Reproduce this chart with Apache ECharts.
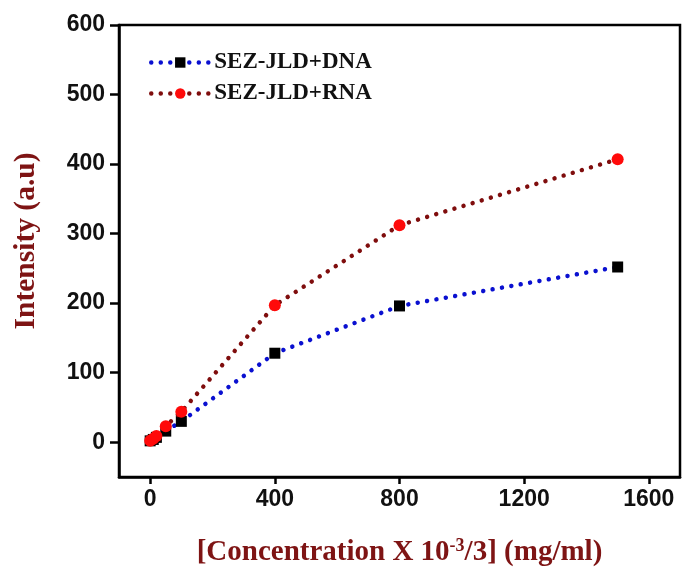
<!DOCTYPE html>
<html><head><meta charset="utf-8">
<script src="https://cdn.jsdelivr.net/npm/echarts@6/dist/echarts.min.js"></script>
<style>html,body{margin:0;padding:0;background:#fff}#c{width:683px;height:569px}</style>
</head><body><div id="c"></div>
<script>
const concentration = [0, 10, 20, 50, 100, 400, 800, 1500];
const dnaIntensity = [2, 4, 7, 16, 30, 128, 196, 252];
const rnaIntensity = [2, 5, 9, 23, 44, 197, 312, 407];
const xTicks = [0, 400, 800, 1200, 1600];
const yTicks = [0, 100, 200, 300, 400, 500, 600];
const seriesNames = ['SEZ-JLD+DNA', 'SEZ-JLD+RNA'];

const chart = echarts.init(document.getElementById('c'));
const dot = {type: [0.01, 9.5], cap: 'round', width: 4.5};
const nameColor = '#7e1414';
chart.setOption({
  animation: false,
  grid: {left: 119, right: 3, top: 25, bottom: 92, outerBoundsMode: 'none', containLabel: false,
         show: true, borderColor: '#000', borderWidth: 2.5, backgroundColor: 'transparent'},
  legend: {
    left: 144, top: 46, orient: 'vertical', itemWidth: 58, itemHeight: 13, itemGap: 8,
    lineStyle: {width: 4.5, type: [0.01, 9.5], cap: 'round'},
    textStyle: {fontFamily: 'Liberation Serif', fontWeight: 'bold', fontSize: 23, color: '#111'},
    data: seriesNames
  },
  xAxis: {
    type: 'value', min: -100, max: 1700,
    splitLine: {show: false},
    axisLine: {onZero: false, lineStyle: {color: '#000', width: 2.5}},
    axisTick: {customValues: xTicks, length: 7, lineStyle: {color: '#000', width: 2.5}},
    axisLabel: {customValues: xTicks, formatter: v => String(v), margin: 11, fontFamily: 'Liberation Sans', fontWeight: 'bold', fontSize: 23, color: '#111'},
    name: '{a|[Concentration X 10}{s|-3}{a|/3] (mg/ml)}',
    nameLocation: 'middle', nameGap: 60,
    nameTextStyle: {rich: {
      a: {fontFamily: 'Liberation Serif', fontWeight: 'bold', fontSize: 29, color: nameColor},
      s: {fontFamily: 'Liberation Serif', fontWeight: 'bold', fontSize: 18, color: nameColor, verticalAlign: 'top', padding: [0,0,14,0]}
    }}
  },
  yAxis: {
    type: 'value', min: -50, max: 600,
    splitLine: {show: false},
    axisLine: {onZero: false, lineStyle: {color: '#000', width: 2.5}},
    axisTick: {customValues: yTicks, length: 9, lineStyle: {color: '#000', width: 2.5}},
    axisLabel: {customValues: yTicks, formatter: v => String(v), margin: 14, fontFamily: 'Liberation Sans', fontWeight: 'bold', fontSize: 23, color: '#111'},
    name: 'Intensity (a.u)', nameLocation: 'middle', nameGap: 78, nameMoveOverlap: false,
    nameTextStyle: {fontFamily: 'Liberation Serif', fontWeight: 'bold', fontSize: 29.5, color: nameColor, padding: [0, 0, 0, 20]}
  },
  series: [
    {name: seriesNames[0], type: 'line', data: concentration.map((x, i) => [x, dnaIntensity[i]]),
     symbol: 'rect', symbolSize: 11, itemStyle: {color: '#000'},
     lineStyle: Object.assign({color: '#0a10d0'}, dot), z: 3},
    {name: seriesNames[1], type: 'line', data: concentration.map((x, i) => [x, rnaIntensity[i]]),
     symbol: 'circle', symbolSize: 12, itemStyle: {color: '#ff0a0a'},
     lineStyle: Object.assign({color: '#7f0d0d'}, dot), z: 4}
  ]
});
</script></body></html>
